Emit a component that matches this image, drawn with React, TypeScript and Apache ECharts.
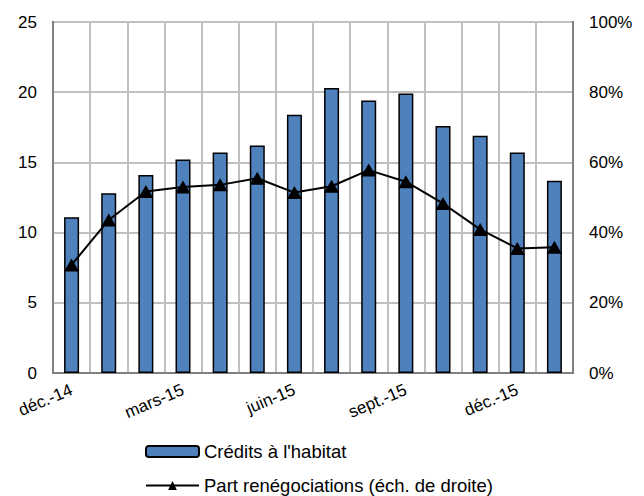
import React, { useEffect, useRef } from "react";
import * as echarts from "echarts";

const categories = [
  "déc.-14", "janv.-15", "févr.-15", "mars-15", "avr.-15", "mai-15", "juin-15",
  "juil.-15", "août-15", "sept.-15", "oct.-15", "nov.-15", "déc.-15", "janv.-16",
];
const credits = [11.1, 12.8, 14.1, 15.2, 15.7, 16.2, 18.4, 20.3, 19.4, 19.9, 17.6, 16.9, 15.7, 13.7];
const partReneg = [30.8, 43.6, 51.7, 53.0, 53.6, 55.5, 51.4, 53.2, 57.8, 54.5, 48.3, 40.9, 35.5, 35.8];
const leftTicks = [0, 5, 10, 15, 20, 25];
const rightTicks = [0, 20, 40, 60, 80, 100];

const FONT = "Liberation Sans, Arial, sans-serif";

export default function App() {
  const ref = useRef<HTMLDivElement>(null);
  useEffect(() => {
    if (!ref.current) return;
    const chart = echarts.init(ref.current, null, { renderer: "svg" });
    chart.setOption({
      animation: false,
      textStyle: { fontFamily: FONT },
      grid: {
        left: 53, right: 71, top: 22, bottom: 123,
        show: true, borderColor: "#000", borderWidth: 2, backgroundColor: "transparent",
      },
      legend: {
        orient: "vertical",
        left: 145,
        top: 442,
        padding: 0,
        itemWidth: 53,
        itemHeight: 11,
        itemGap: 15,
        textStyle: { fontFamily: FONT, fontSize: 18.5, color: "#000" },
        data: [
          { name: "Crédits à l'habitat" },
          { name: "Part renégociations (éch. de droite)" },
        ],
      },
      xAxis: {
        type: "category",
        data: categories,
        boundaryGap: true,
        axisTick: { show: false },
        axisLine: { show: true, lineStyle: { color: "#808080", width: 2 } },
        splitLine: { show: true, interval: 0, lineStyle: { color: "#bfbfbf", width: 2 } },
        axisLabel: {
          interval: 2,
          rotate: 23,
          fontSize: 17,
          color: "#000",
          fontFamily: FONT,
          margin: 16,
        },
      },
      yAxis: [
        {
          type: "value",
          min: leftTicks[0],
          max: leftTicks[leftTicks.length - 1],
          interval: 5,
          axisLine: { show: true, lineStyle: { color: "#808080", width: 2 } },
          axisTick: { show: false },
          splitLine: { show: true, lineStyle: { color: "#bfbfbf", width: 2 } },
          axisLabel: { fontSize: 17, color: "#000", fontFamily: FONT, margin: 16 },
        },
        {
          type: "value",
          min: rightTicks[0],
          max: rightTicks[rightTicks.length - 1],
          interval: 20,
          position: "right",
          axisLine: { show: true, lineStyle: { color: "#808080", width: 2 } },
          axisTick: { show: false },
          splitLine: { show: false },
          axisLabel: { fontSize: 17, color: "#000", fontFamily: FONT, margin: 16, formatter: "{value}%" },
        },
      ],
      series: [
        {
          name: "Crédits à l'habitat",
          type: "bar",
          data: credits,
          barWidth: 15,
          itemStyle: { color: "#4f81bd", borderColor: "#000", borderWidth: 1.5 },
        },
        {
          name: "Part renégociations (éch. de droite)",
          type: "line",
          yAxisIndex: 1,
          data: partReneg,
          symbol: "triangle",
          symbolSize: [15, 13],
          itemStyle: { color: "#000" },
          lineStyle: { color: "#000", width: 2 },
        },
      ],
    });
    return () => chart.dispose();
  }, []);
  return <div ref={ref} style={{ width: 644, height: 496, position: "absolute", left: 0, top: 0 }} />;
}
